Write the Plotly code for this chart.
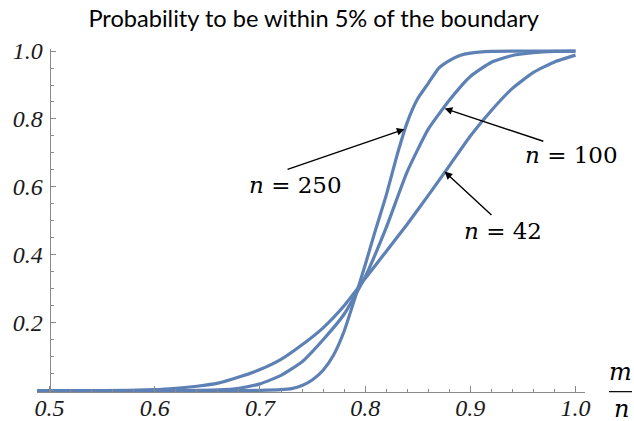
import plotly.graph_objects as go

# ---- data ----
x_n42 = [0.488, 0.55, 0.60, 0.62, 0.64, 0.66, 0.68, 0.70, 0.72, 0.74, 0.76, 0.78, 0.80,
         0.82, 0.84, 0.86, 0.88, 0.90, 0.92, 0.94, 0.96, 0.98, 1.00]
y_n42 = [0.0, 0.0, 0.003, 0.007, 0.013, 0.022, 0.040, 0.062, 0.092, 0.135, 0.185, 0.250, 0.330,
         0.410, 0.490, 0.575, 0.662, 0.750, 0.825, 0.890, 0.937, 0.968, 0.988]

x_n100 = [0.488, 0.60, 0.64, 0.66, 0.68, 0.70, 0.72, 0.74, 0.76, 0.78, 0.80, 0.82, 0.84,
          0.86, 0.88, 0.90, 0.92, 0.94, 0.96, 0.98, 1.00]
y_n100 = [0.0, 0.0, 0.001, 0.002, 0.007, 0.020, 0.045, 0.085, 0.150, 0.225, 0.335, 0.480, 0.645,
          0.770, 0.855, 0.925, 0.967, 0.987, 0.995, 0.999, 1.0]

x_n250 = [0.488, 0.68, 0.70, 0.72, 0.73, 0.74, 0.75, 0.76, 0.77, 0.78, 0.79, 0.80, 0.81,
          0.82, 0.83, 0.84, 0.85, 0.86, 0.87, 0.88, 0.89, 0.90, 0.92, 0.95, 1.00]
y_n250 = [0.0, 0.0, 0.001, 0.003, 0.006, 0.015, 0.032, 0.060, 0.105, 0.175, 0.270, 0.370, 0.475,
          0.575, 0.690, 0.790, 0.860, 0.905, 0.950, 0.972, 0.987, 0.994, 0.999, 1.0, 1.0]

x_ticks = [0.5, 0.6, 0.7, 0.8, 0.9, 1.0]
x_labels = ["0.5", "0.6", "0.7", "0.8", "0.9", "1.0"]
y_ticks = [0.2, 0.4, 0.6, 0.8, 1.0]
y_labels = ["0.2", "0.4", "0.6", "0.8", "1.0"]

title_text = "Probability to be within 5% of the boundary"
curve_color = "#5e81b5"

fig = go.Figure()
for xs, ys in [(x_n42, y_n42), (x_n100, y_n100), (x_n250, y_n250)]:
    fig.add_trace(go.Scatter(x=xs, y=ys, mode="lines",
                             line=dict(color=curve_color, width=3.2, shape="spline", smoothing=0.5),
                             showlegend=False, hoverinfo="skip"))

x_range = [0.488, 1.009]
tick_font = dict(family="Liberation Serif", size=24, color="#1a1a1a", style="italic")

W, H = 634, 421
fig.update_layout(
    width=W, height=H,
    margin=dict(l=37, r=49, t=49, b=28.6),
    plot_bgcolor="white", paper_bgcolor="white",
    title=dict(text=title_text, x=313.7 / W, xref="container", xanchor="center",
               y=1 - 19 / H, yref="container", yanchor="middle",
               font=dict(family="Lato", size=23.6, color="black")),
    xaxis=dict(range=x_range, showgrid=False, zeroline=False, automargin=False,
               showline=True, linecolor="#8a8a8a", linewidth=1,
               tickmode="array", tickvals=x_ticks, ticktext=x_labels,
               ticks="inside", ticklen=6, tickcolor="#8a8a8a", tickwidth=1,
               ticklabelstandoff=-6,
               minor=dict(dtick=0.02, tick0=0.5, ticks="inside", ticklen=3.5,
                          tickcolor="#8a8a8a", showgrid=False),
               tickfont=tick_font),
    yaxis=dict(range=[-0.004, 1.006], showgrid=False, zeroline=False, automargin=False,
               anchor="free", position=(0.5 - x_range[0]) / (x_range[1] - x_range[0]),
               showline=True, linecolor="#8a8a8a", linewidth=1,
               tickmode="array", tickvals=y_ticks, ticktext=y_labels,
               ticks="inside", ticklen=5, tickcolor="#8a8a8a", tickwidth=1,
               ticklabelstandoff=2,
               minor=dict(dtick=0.05, tick0=0, ticks="inside", ticklen=3,
                          tickcolor="#8a8a8a", showgrid=False),
               tickfont=tick_font),
)

ann_font = dict(family="DejaVu Serif", size=23, color="black")
labels = [
    ("<i>n</i> = 250", 0.7336, 0.606, 0.7248, 0.650, 0.8374, 0.770),
    ("<i>n</i> = 100", 0.9965, 0.694, 0.9708, 0.733, 0.8755, 0.831),
    ("<i>n</i> = 42", 0.9308, 0.471, 0.9215, 0.513, 0.8755, 0.645),
]
for text, tx, ty, ax, ay, hx, hy in labels:
    fig.add_annotation(x=tx, y=ty, xref="x", yref="y", text=text, showarrow=False,
                       font=ann_font, xanchor="center", yanchor="middle")
    fig.add_annotation(x=hx, y=hy, xref="x", yref="y", ax=ax, ay=ay, axref="x", ayref="y",
                       text="", showarrow=True, arrowhead=2, arrowsize=1.1,
                       arrowwidth=1.4, arrowcolor="black")

# axis label m/n as a fraction
frac_font = dict(family="DejaVu Serif", size=24, color="black", style="italic")
fig.add_annotation(x=1.0648, y=0.058, xref="paper", yref="paper", text="m",
                   showarrow=False, font=frac_font, xanchor="center", yanchor="middle")
fig.add_annotation(x=1.0675, y=-0.050, xref="paper", yref="paper", text="n",
                   showarrow=False, font=frac_font, xanchor="center", yanchor="middle")
fig.add_shape(type="line", xref="paper", yref="paper", x0=1.0438, x1=1.0858,
              y0=0.001, y1=0.001, line=dict(color="black", width=1.2))

fig.write_html("out.html", config={"displayModeBar": False},
               post_script="document.body.style.margin='0';document.body.style.overflow='hidden';")
